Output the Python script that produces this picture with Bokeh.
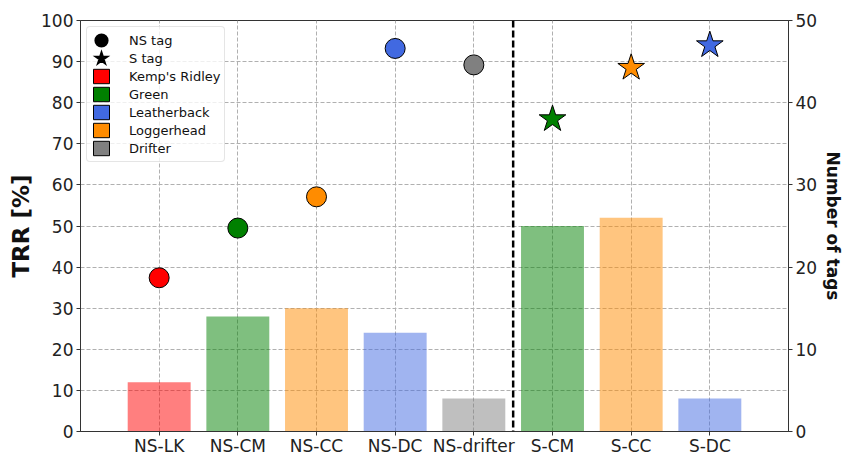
from bokeh.plotting import figure
from bokeh.models import (Range1d, LinearAxis, FixedTicker, SingleIntervalTicker,
                          Span, Legend, LegendItem, ColumnDataSource)
from bokeh.embed import file_html
from bokeh.resources import INLINE

# Tag groups: non-satellite (NS) and satellite (S) deployments
categories = ["NS-LK", "NS-CM", "NS-CC", "NS-DC", "NS-drifter", "S-CM", "S-CC", "S-DC"]
tag_type = ["NS", "NS", "NS", "NS", "NS", "S", "S", "S"]
species = ["Kemp's Ridley", "Green", "Loggerhead", "Leatherback", "Drifter",
           "Green", "Loggerhead", "Leatherback"]

# Tag return rate (left axis) and number of tags (right axis)
trr = [37.4, 49.5, 57.1, 93.2, 89.2, 76.0, 88.5, 94.0]
n_tags = [6, 14, 15, 12, 4, 25, 26, 4]

species_names = ["Kemp's Ridley", "Green", "Leatherback", "Loggerhead", "Drifter"]
species_colors = ["#ff0000", "#008000", "#4169e1", "#ff8c00", "#808080"]

FONT = "DejaVu Sans"
color_of = dict(zip(species_names, species_colors))
marker_of = {"NS": "circle", "S": "star"}
size_of = {"NS": 20, "S": 28}

xs = list(range(len(categories)))
src = ColumnDataSource(dict(
    x=xs, trr=trr, n=n_tags,
    color=[color_of[s] for s in species],
    marker=[marker_of[t] for t in tag_type],
    size=[size_of[t] for t in tag_type],
))

p = figure(width=846, height=458, output_backend="svg", toolbar_location=None,
           x_range=Range1d(-1, len(categories)), y_range=Range1d(0, 100),
           min_border_left=80, min_border_right=57, min_border_top=20,
           min_border_bottom=24)
p.extra_y_ranges = {"tags": Range1d(0, 50)}
p.outline_line_color = "#333333"
p.outline_line_width = 1

# Bars: number of tags on the right-hand scale
p.vbar(x="x", top="n", width=0.8, source=src, y_range_name="tags",
       fill_color="color", fill_alpha=0.5, line_color=None)

# Separator between NS and S groups
sep = tag_type.index("S") - 0.5
p.add_layout(Span(location=sep, dimension="height", line_color="black",
                  line_dash="7 3", line_width=2.5))

# Markers: tag return rate
p.scatter(x="x", y="trr", source=src, marker="marker", size="size",
          fill_color="color", line_color="black", line_width=1)

# Axes
def style_axis(ax):
    ax.major_label_text_font = FONT
    ax.major_label_text_font_size = "17px"
    ax.major_label_text_color = "#222222"
    ax.axis_line_color = "#333333"
    ax.major_tick_line_color = "#333333"
    ax.major_tick_out = 4
    ax.major_tick_in = 0
    ax.minor_tick_line_color = None
    ax.major_label_standoff = 3
    ax.axis_label_text_font = FONT
    ax.axis_label_text_font_style = "bold"
    ax.axis_label_text_color = "#111111"

style_axis(p.xaxis[0])
style_axis(p.yaxis[0])
p.xaxis.ticker = FixedTicker(ticks=xs)
p.xaxis.major_label_overrides = {i: c for i, c in zip(xs, categories)}
p.xaxis.major_label_standoff = 0

p.yaxis.ticker = SingleIntervalTicker(interval=10)
p.yaxis.axis_label = "TRR [%]"
p.yaxis.axis_label_text_font_size = "23px"
p.yaxis.axis_label_standoff = 4

right = LinearAxis(y_range_name="tags", ticker=SingleIntervalTicker(interval=10),
                   axis_label="Number of tags")
style_axis(right)
right.axis_label_text_font_size = "17px"
right.axis_label_standoff = 3
p.add_layout(right, "right")

# Grid
p.xgrid.ticker = FixedTicker(ticks=xs)
for g in (p.xgrid[0], p.ygrid[0]):
    g.grid_line_color = "#b0b0b0"
    g.grid_line_dash = "4 2"
    g.grid_line_width = 1

# Legend built from proxy glyphs that hold no visible data
nan = [float("nan")]
items = []
r_ns = p.scatter(x=nan, y=nan, marker="circle", fill_color="black",
                 line_color="black", line_width=7)
r_s = p.scatter(x=nan, y=nan, marker="star", fill_color="black",
                line_color="black", line_width=3.5, line_join="miter")
items.append(LegendItem(label="NS tag", renderers=[r_ns]))
items.append(LegendItem(label="S tag", renderers=[r_s]))
for name, col in zip(species_names, species_colors):
    r = p.vbar(x=nan, top=nan, width=0.8, fill_color=col, line_color="black",
               line_width=1)
    items.append(LegendItem(label=name, renderers=[r]))

legend = Legend(items=items, location="top_left", margin=6, padding=4,
                spacing=0, glyph_width=20, glyph_height=18, label_height=18,
                label_standoff=18, label_text_font=FONT, label_text_font_size="13px",
                label_text_color="#111111", border_line_color="#cccccc",
                border_line_width=1, border_radius=4, background_fill_alpha=0.8)
p.add_layout(legend)

open("out.html", "w").write(file_html(p, INLINE))
